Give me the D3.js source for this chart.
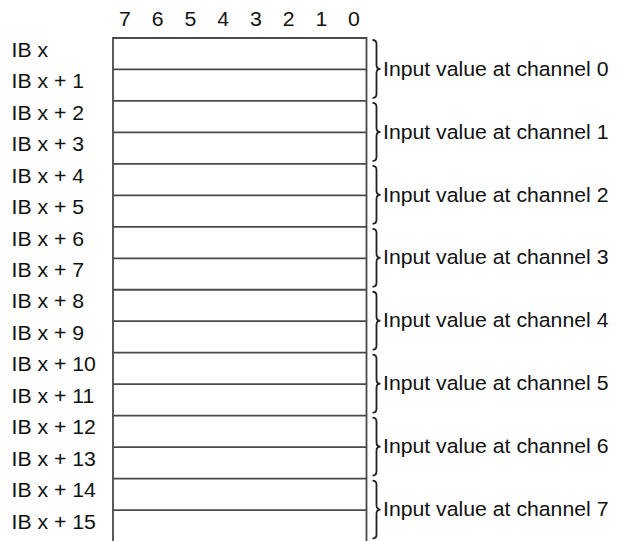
<!DOCTYPE html>
<html>
<head>
<meta charset="utf-8">
<script src="https://cdn.jsdelivr.net/npm/d3@7"></script>
<style>
  html, body { margin: 0; padding: 0; background: #fff; }
  svg { display: block; }
  text { font-family: "Liberation Sans", Arial, sans-serif; fill: #111; }
</style>
</head>
<body>
<div id="chart"></div>
<script>
const bits = ["7", "6", "5", "4", "3", "2", "1", "0"];
const rowLabels = [
  "IB x", "IB x + 1", "IB x + 2", "IB x + 3", "IB x + 4", "IB x + 5",
  "IB x + 6", "IB x + 7", "IB x + 8", "IB x + 9", "IB x + 10", "IB x + 11",
  "IB x + 12", "IB x + 13", "IB x + 14", "IB x + 15"
];
const channelLabels = [
  "Input value at channel 0", "Input value at channel 1",
  "Input value at channel 2", "Input value at channel 3",
  "Input value at channel 4", "Input value at channel 5",
  "Input value at channel 6", "Input value at channel 7"
];
const channelRows = [
  ["IB x", "IB x + 1"], ["IB x + 2", "IB x + 3"], ["IB x + 4", "IB x + 5"],
  ["IB x + 6", "IB x + 7"], ["IB x + 8", "IB x + 9"], ["IB x + 10", "IB x + 11"],
  ["IB x + 12", "IB x + 13"], ["IB x + 14", "IB x + 15"]
];

const W = 621, H = 541;
const FONT = 19.5, SX = 1.09;
const lineColor = "#4a4a4a";

const svg = d3.select("#chart").append("svg")
  .attr("width", W).attr("height", H);

const y = d3.scaleBand().domain(rowLabels).range([38, 541.5]);
const xBox = d3.scaleLinear().domain([0, 1]).range([113, 366.5]);
const xBit = d3.scalePoint().domain(bits).range([125, 354]);

// bit numbers
svg.append("g").selectAll("text").data(bits).join("text")
  .attr("transform", d => `translate(${xBit(d)},26) scale(${SX},1)`)
  .attr("text-anchor", "middle")
  .style("font-size", FONT + "px")
  .text(d => d);

// row labels
svg.append("g").selectAll("text").data(rowLabels).join("text")
  .attr("transform", d => `translate(11.5,${y(d) + y.bandwidth() / 2 + 3}) scale(${SX},1)`)
  .style("font-size", FONT + "px")
  .text(d => d);

// box outline (left, top, right)
const boxTop = y.range()[0], boxBottom = y.range()[1];
svg.append("path")
  .attr("d", `M${xBox(0)},${boxBottom + 2}V${boxTop}H${xBox(1)}V${boxBottom + 2}`)
  .attr("fill", "none").attr("stroke", lineColor).attr("stroke-width", 1.8);

// row separators
svg.append("g").selectAll("line").data(rowLabels.slice(1)).join("line")
  .attr("x1", xBox(0)).attr("x2", xBox(1))
  .attr("y1", d => y(d)).attr("y2", d => y(d))
  .attr("stroke", lineColor).attr("stroke-width", 1.8);

// braces
function bracePath(x0, y0, y1) {
  const xV = x0 + 4, xT = x0 + 8, mid = (y0 + y1) / 2, r = 4;
  return `M${x0},${y0}Q${xV},${y0} ${xV},${y0 + r}` +
    `L${xV},${mid - r}Q${xV},${mid} ${xT},${mid}` +
    `Q${xV},${mid} ${xV},${mid + r}` +
    `L${xV},${y1 - r}Q${xV},${y1} ${x0},${y1}`;
}
const braceX = xBox(1) + 6;
svg.append("g").selectAll("path").data(channelRows).join("path")
  .attr("d", d => bracePath(braceX, y(d[0]) + 2, y(d[1]) + y.bandwidth() - 3))
  .attr("fill", "none").attr("stroke", "#222").attr("stroke-width", 1.8);

// channel labels
svg.append("g").selectAll("text").data(channelLabels).join("text")
  .attr("transform", (d, i) => {
    const r = channelRows[i];
    const mid = (y(r[0]) + 2 + y(r[1]) + y.bandwidth() - 3) / 2;
    return `translate(383,${mid + 6.7}) scale(${SX},1)`;
  })
  .style("font-size", FONT + "px")
  .text(d => d);
</script>
</body>
</html>
